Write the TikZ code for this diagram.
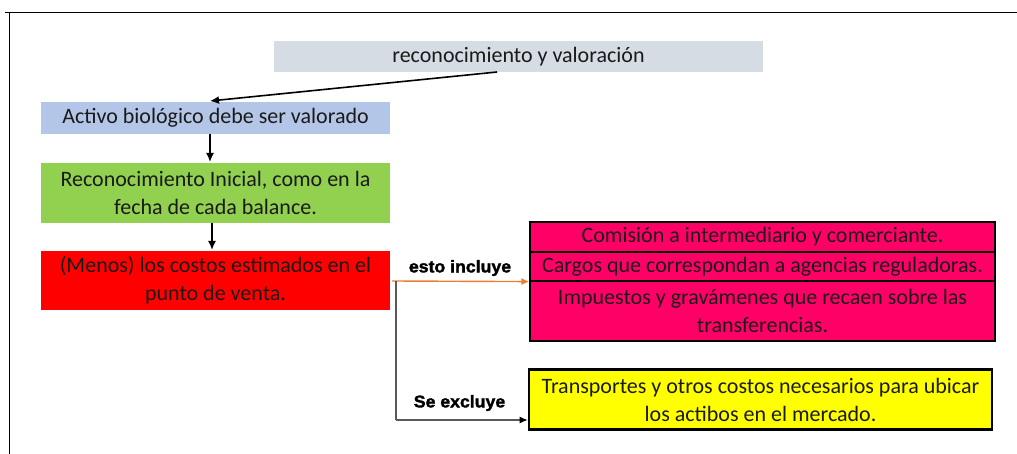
\documentclass[tikz,border=0pt]{standalone}
\usepackage{fontspec}
\setmainfont{Carlito}
\newfontfamily\narrowbold[FakeStretch=1.04,FakeBold=1.8]{Liberation Sans Bold}
\usetikzlibrary{arrows.meta}
\definecolor{grayfill}{HTML}{D6DCE4}
\definecolor{bluefill}{HTML}{B4C6E7}
\definecolor{greenfill}{HTML}{92D050}
\definecolor{redfill}{HTML}{FF0000}
\definecolor{pinkfill}{HTML}{FF0066}
\definecolor{yellowfill}{HTML}{FFFF00}
\definecolor{orangeline}{HTML}{ED7D31}
\definecolor{grayline}{HTML}{595959}
\definecolor{textdark}{HTML}{1A1A1A}
\tikzset{
  box/.style={rectangle, inner sep=0pt, align=center, text=textdark, font=\fontsize{22}{28}\selectfont},
  pinkbox/.style={box, fill=pinkfill, draw=black, line width=1.2pt},
  lbl/.style={font=\narrowbold\fontsize{17}{18}\selectfont, inner sep=0pt},
  arr/.style={-{Latex[length=9pt,width=8pt]}, line width=1.6pt},
}
\begin{document}
\begin{tikzpicture}[x=1pt,y=-1pt]
\useasboundingbox (0,0) rectangle (1017,454);
% frame
\draw[line width=1.8pt] (5,12.5) -- (1017,12.5);
\draw[line width=1.8pt] (9.5,12.5) -- (9.5,454);
% boxes
\node[box, fill=grayfill, minimum width=489pt, minimum height=31pt] (top) at (518.5,56.5) {reconocimiento y valoración};
\node[box, fill=bluefill, minimum width=349pt, minimum height=32pt] (blue) at (215.5,118) {Activo biológico debe ser valorado};
\node[box, fill=greenfill, minimum width=349pt, minimum height=60pt] (green) at (215.5,193) {Reconocimiento Inicial, como en la\\fecha de cada balance.};
\node[box, fill=redfill, minimum width=349pt, minimum height=59pt] (red) at (215.5,280.5) {(Menos) los costos estimados en el\\punto de venta.};
\node[pinkbox, minimum width=465pt, minimum height=30pt] (p1) at (762.5,237) {Comisión a intermediario y comerciante.};
\node[pinkbox, minimum width=465pt, minimum height=29pt] (p2) at (762.5,266.5) {Cargos que correspondan a agencias reguladoras.};
\node[pinkbox, minimum width=465pt, minimum height=60pt] (p3) at (762.5,311) {Impuestos y gravámenes que recaen sobre las\\transferencias.};
\node[box, fill=yellowfill, draw=black, line width=2.6pt, minimum width=463pt, minimum height=60pt] (yel) at (760.5,399.5) {Transportes y otros costos necesarios para ubicar\\los actibos en el mercado.};
% connectors
\coordinate (s1) at (497,72);
\draw[arr] (s1) -- (210,101);
\draw[arr] (210,134) -- (210,162);
\draw[arr] (212,223) -- (212,250);
\coordinate (o1) at (392,281);
\draw[orangeline, line width=1.4pt, -{Latex[length=8pt,width=7pt]}] (o1) -- (p2.south west);
\coordinate (g1) at (396,281);
\coordinate (g2) at (396,420);
\draw[grayline, line width=1.2pt] (g1) -- (g2);
\draw[grayline, line width=1.2pt, -{Latex[length=8pt,width=7pt,black]}] (g2) -- (yel.west |- g2);
% labels
\node[lbl] (inc) at (460,268) {esto incluye};
\node[lbl] (exc) at (459.5,403) {Se excluye};
\end{tikzpicture}
\end{document}
